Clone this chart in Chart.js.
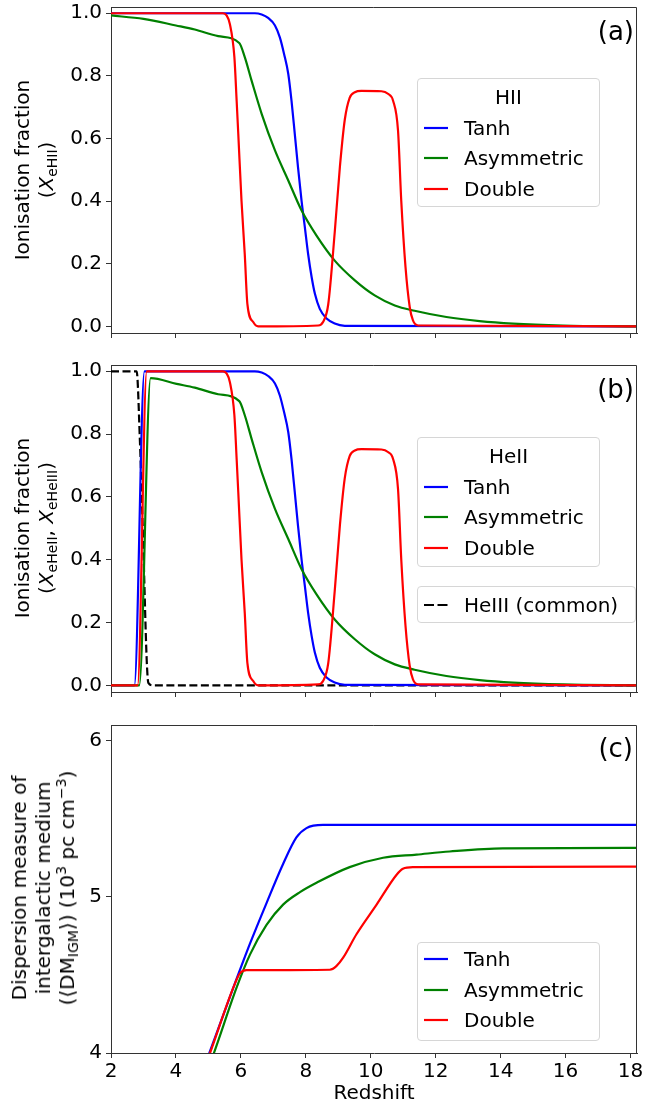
<!DOCTYPE html>
<html>
<head>
<meta charset="utf-8">
<title>Ionisation history and DM</title>
<script src="https://cdn.jsdelivr.net/npm/chart.js@4.4.1/dist/chart.umd.min.js"></script>
<style>
  body { margin: 0; background: #fff; font-family: "DejaVu Sans", sans-serif; color: #000; }
  #fig { position: relative; width: 645px; height: 1108px; overflow: hidden; }
  canvas { position: absolute; left: 0; }
  .ytitle { position: absolute; transform: translate(-50%, -50%) rotate(-90deg); text-align: center;
            font-size: 20px; line-height: 24px; white-space: nowrap; }
  .ytitle sub { font-size: 14px; line-height: 0; vertical-align: -4px; }
  .ytitle sup { font-size: 14px; line-height: 0; vertical-align: 8px; }
  .tag { position: absolute; font-size: 26px; line-height: 30px; transform: translate(-100%, -50%); }
  .legend { position: absolute; box-sizing: border-box; border: 1px solid #d6d6d6; border-radius: 4px;
            background: rgba(255,255,255,0.8); font-size: 20px; padding-top: 3px; }
  .legend .ttl { height: 30.5px; line-height: 30.5px; text-align: center; }
  .legend .row { position: relative; height: 30.5px; line-height: 30.5px; padding-left: 46px; white-space: nowrap; }
  .legend .row svg { position: absolute; left: 6px; top: 12px; }
</style>
</head>
<body>
<div id="fig">
  <canvas id="chartA" width="645" height="340" style="top:0px"></canvas>
  <canvas id="chartB" width="645" height="341" style="top:358px"></canvas>
  <canvas id="chartC" width="645" height="390" style="top:718px"></canvas>

  <div class="ytitle" style="left:34px; top:170px">Ionisation fraction<br>(<i>X</i><sub>eHII</sub>)</div>
  <div class="ytitle" style="left:34px; top:528px">Ionisation fraction<br>(<i>X</i><sub>eHeII</sub>, <i>X</i><sub>eHeIII</sub>)</div>
  <div class="ytitle" style="left:43px; top:888px">Dispersion measure of<br>intergalactic medium<br>(⟨DM<sub>IGM</sub>⟩) (10<sup>3</sup> pc cm<sup>−3</sup>)</div>

  <div class="tag" style="left:634px; top:31px">(a)</div>
  <div class="tag" style="left:634px; top:389px">(b)</div>
  <div class="tag" style="left:633px; top:748px">(c)</div>

  <div class="legend" id="legA" style="left:417px; top:78px; width:183px; height:129px"></div>
  <div class="legend" id="legB" style="left:417px; top:437px; width:183px; height:130px"></div>
  <div class="legend" id="legB2" style="left:417px; top:586px; width:219px; height:37px"></div>
  <div class="legend" id="legC" style="left:417px; top:942px; width:183px; height:99px; padding-top:1px"></div>
</div>

<script>
// axis ticks
const xTicks = [2, 4, 6, 8, 10, 12, 14, 16, 18];
const fracTicks = [0, 0.2, 0.4, 0.6, 0.8, 1.0];
const dmTicks = [4, 5, 6];

const seriesNames = ['Tanh', 'Asymmetric', 'Double'];
const seriesColors = ['#0000ff', '#008000', '#ff0000'];

// (a) HII ionisation fraction
const hiiTanhZ = [2, 6.43, 6.64, 6.84, 7.05, 7.2, 7.33, 7.46, 7.56, 7.66, 7.76, 7.87, 7.97, 8.07, 8.18, 8.28, 8.43, 8.64, 8.89, 9.2, 18.2];
const hiiTanh  = [1.0, 1.0, 0.996, 0.985, 0.961, 0.923, 0.870, 0.806, 0.72, 0.615, 0.508, 0.40, 0.317, 0.232, 0.157, 0.104, 0.056, 0.025, 0.009, 0.002, 0.0];

const hiiAsymZ = [2, 3, 4, 4.58, 5.3, 5.95, 6.12, 6.33, 6.64, 7.05, 7.46, 7.87, 8.33, 8.89, 9.51, 10.12, 10.74, 11.35, 12.33, 13.35, 14.38, 15.92, 18.2];
const hiiAsym  = [0.993, 0.982, 0.961, 0.948, 0.927, 0.905, 0.86, 0.785, 0.679, 0.562, 0.466, 0.37, 0.29, 0.21, 0.147, 0.099, 0.067, 0.05, 0.03, 0.017, 0.009, 0.003, 0.0];

const hiiDoubleZ = [2, 5.45, 5.56, 5.66, 5.80, 5.87, 5.92, 6.02, 6.12, 6.2, 6.38, 6.53, 8.38, 8.53, 8.69, 8.89, 9.05, 9.2, 9.35, 9.51, 9.71, 10.33, 10.53, 10.69, 10.84, 10.94, 11.07, 11.2, 11.3, 11.46, 18.2];
const hiiDouble  = [1.0, 1.0, 0.993, 0.966, 0.86, 0.72, 0.615, 0.40, 0.23, 0.072, 0.014, 0.0, 0.003, 0.014, 0.07, 0.30, 0.51, 0.66, 0.73, 0.748, 0.752, 0.751, 0.743, 0.72, 0.625, 0.40, 0.19, 0.062, 0.019, 0.003, 0.0];

// (b) HeII: low-z rise, then same as HII above z~3.3
const heiiTanhZ = [2, 2.72, 3.03, ...hiiTanhZ.slice(1)];
const heiiTanh  = [0, 0, 1.0, ...hiiTanh.slice(1)];
const heiiAsymZ = [2, 2.87, 3.22, 4.02, 4.58, ...hiiAsymZ.slice(4)];
const heiiAsym  = [0, 0, 0.978, 0.96, 0.948, ...hiiAsym.slice(4)];
const heiiDoubleZ = [2, 2.82, 3.1, ...hiiDoubleZ.slice(1)];
const heiiDouble  = [0, 0, 1.0, ...hiiDouble.slice(1)];

const heiiiZ = [2, 2.79, 2.89, 2.99, 3.1, 3.15, 3.3, 18.2];
const heiii  = [1.0, 1.0, 0.78, 0.46, 0.08, 0.008, 0.0, 0.0];

// (c) mean DM of IGM, 10^3 pc cm^-3
const dmTanhZ = [4.8, 5.03, 5.77, 6.28, 6.79, 7.3, 7.71, 8.02, 8.53, 9.35, 18.2];
const dmTanh  = [3.87, 4.0, 4.42, 4.70, 4.96, 5.21, 5.38, 5.44, 5.46, 5.46, 5.46];

const dmAsymZ = [4.9, 5.17, 5.87, 6.28, 6.79, 7.3, 7.82, 8.33, 9.35, 10.38, 11.41, 12.43, 14.07, 18.2];
const dmAsym  = [3.85, 4.0, 4.42, 4.63, 4.82, 4.95, 5.03, 5.09, 5.19, 5.25, 5.27, 5.29, 5.31, 5.313];

const dmDoubleZ = [4.8, 5.05, 5.77, 5.97, 6.17, 6.48, 8.74, 8.94, 9.15, 9.56, 10.18, 10.79, 10.99, 11.3, 18.2];
const dmDouble  = [3.86, 4.0, 4.42, 4.51, 4.53, 4.53, 4.533, 4.556, 4.61, 4.76, 4.95, 5.14, 5.18, 5.19, 5.193];

Chart.defaults.font.family = '"DejaVu Sans", sans-serif';
Chart.defaults.font.size = 20;
Chart.defaults.color = '#000';

const toPoints = (zs, vs) => zs.map((z, i) => ({x: z, y: vs[i]}));

function line(label, zs, vs, color, order, dash) {
    return {
        label: label,
        data: toPoints(zs, vs),
        borderColor: color,
        borderWidth: 2.2,
        borderDash: dash || [],
        pointRadius: 0,
        fill: false,
        cubicInterpolationMode: 'monotone',
        borderJoinStyle: 'round',
        order: order
    };
}

// top and right spines
const frame = {
    id: 'frame',
    afterDraw(chart) {
        const a = chart.chartArea, ctx = chart.ctx;
        ctx.save();
        ctx.strokeStyle = '#333';
        ctx.lineWidth = 1;
        ctx.beginPath();
        ctx.moveTo(a.left, a.top + 0.5);
        ctx.lineTo(a.right - 0.5, a.top + 0.5);
        ctx.lineTo(a.right - 0.5, a.bottom);
        ctx.stroke();
        ctx.restore();
    }
};

function makePanel(id, datasets, yMin, yMax, yTicks, yFmt, showX, xAxisH) {
    return new Chart(document.getElementById(id), {
        type: 'line',
        data: {datasets: datasets},
        options: {
            responsive: false,
            animation: false,
            layout: {padding: {top: 7, right: 8, left: 0, bottom: 0}},
            scales: {
                x: {
                    type: 'linear',
                    min: 2,
                    max: 18.2,
                    afterBuildTicks: s => { s.ticks = xTicks.map(v => ({value: v})); },
                    afterFit: s => { s.height = xAxisH; s.paddingLeft = 0; s.paddingRight = 0; },
                    ticks: {display: showX, padding: 2, maxRotation: 0, autoSkip: false},
                    grid: {drawOnChartArea: false, drawTicks: true, tickLength: 5, color: '#333', lineWidth: 1},
                    border: {color: '#333', width: 1},
                    title: {display: showX, text: 'Redshift', padding: {top: 0, bottom: 2}}
                },
                y: {
                    min: yMin,
                    max: yMax,
                    afterBuildTicks: s => { s.ticks = yTicks.map(v => ({value: v})); },
                    afterFit: s => { s.width = 111; s.paddingTop = 0; s.paddingBottom = 0; },
                    ticks: {padding: 4, callback: yFmt},
                    grid: {drawOnChartArea: false, drawTicks: true, tickLength: 5, color: '#333', lineWidth: 1},
                    border: {color: '#333', width: 1}
                }
            },
            plugins: {
                legend: {display: false},
                tooltip: {enabled: false}
            }
        },
        plugins: [frame]
    });
}

const frac = v => v.toFixed(1);

makePanel('chartA', [
    line('Tanh', hiiTanhZ, hiiTanh, seriesColors[0], 3),
    line('Asymmetric', hiiAsymZ, hiiAsym, seriesColors[1], 2),
    line('Double', hiiDoubleZ, hiiDouble, seriesColors[2], 1)
], -0.021, 1.02, fracTicks, frac, false, 7);

makePanel('chartB', [
    line('HeIII (common)', heiiiZ, heiii, '#000', 4, [8, 3.5]),
    line('Tanh', heiiTanhZ, heiiTanh, seriesColors[0], 3),
    line('Asymmetric', heiiAsymZ, heiiAsym, seriesColors[1], 2),
    line('Double', heiiDoubleZ, heiiDouble, seriesColors[2], 1)
], -0.021, 1.02, fracTicks, frac, false, 7);

makePanel('chartC', [
    line('Tanh', dmTanhZ, dmTanh, seriesColors[0], 3),
    line('Asymmetric', dmAsymZ, dmAsym, seriesColors[1], 2),
    line('Double', dmDoubleZ, dmDouble, seriesColors[2], 1)
], 4, 6.1, dmTicks, v => String(v), true, 55);

// html legends
function handle(color, dash) {
    return '<svg width="26" height="6"><line x1="0" y1="3" x2="24" y2="3" stroke="' + color +
        '" stroke-width="2.2"' + (dash ? ' stroke-dasharray="' + dash + '"' : '') + '/></svg>';
}
function fillLegend(id, title, names, colors, dash) {
    let html = title ? '<div class="ttl">' + title + '</div>' : '';
    names.forEach((n, i) => {
        html += '<div class="row">' + handle(colors[i], dash) + n + '</div>';
    });
    document.getElementById(id).innerHTML = html;
}
fillLegend('legA', 'HII', seriesNames, seriesColors);
fillLegend('legB', 'HeII', seriesNames, seriesColors);
fillLegend('legB2', '', ['HeIII (common)'], ['#000'], '10,3.5');
fillLegend('legC', '', seriesNames, seriesColors);
</script>
</body>
</html>
